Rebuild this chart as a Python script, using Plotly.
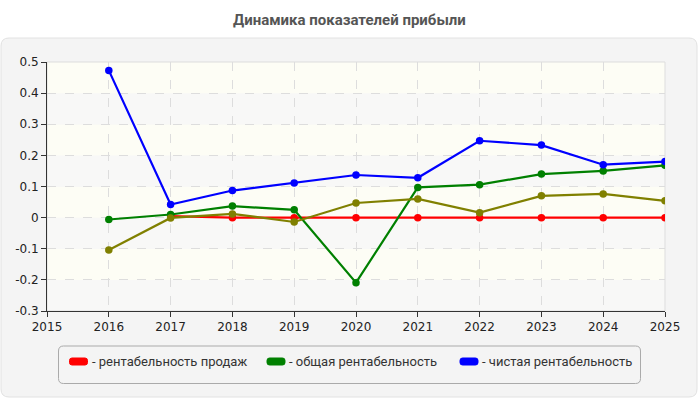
import plotly.graph_objects as go

# ---------------- data ----------------
years = [2016, 2017, 2018, 2019, 2020, 2021, 2022, 2023, 2024, 2025]
sales_profitability = [None, 0.005, 0.0, 0.0, 0.0, 0.0, 0.0, 0.0, 0.0, 0.0]
total_profitability = [-0.006, 0.010, 0.037, 0.025, -0.209, 0.097, 0.106, 0.140, 0.150, 0.168]
net_profitability = [0.473, 0.042, 0.087, 0.111, 0.137, 0.128, 0.247, 0.233, 0.170, 0.180]
fourth_series = [-0.104, -0.001, 0.012, -0.014, 0.047, 0.060, 0.016, 0.070, 0.076, 0.054]

series_names = ["- рентабельность продаж", "- общая рентабельность", "- чистая рентабельность"]
series_colors = ["#ff0000", "#008000", "#0000ff"]
fourth_color = "#808000"

x_ticks = list(range(2015, 2026))
y_ticks = [-0.3, -0.2, -0.1, 0, 0.1, 0.2, 0.3, 0.4, 0.5]
y_tick_text = ["-0.3", "-0.2", "-0.1", "0", "0.1", "0.2", "0.3", "0.4", "0.5"]
title_text = "Динамика показателей прибыли"

# ---------------- layout geometry ----------------
W, H = 700, 400
L, R, T, B = 47, 35, 62, 89
PW, PH = W - L - R, H - T - B


def px(x):
    return (x - L) / PW


def py(y):
    return (H - B - y) / PH


def rounded_path(x0, y0, x1, y1, r):
    rx, ry = r / PW, r / PH
    X0, X1 = px(x0), px(x1)
    Y0, Y1 = py(y0), py(y1)
    return (f"M {X0+rx},{Y0} L {X1-rx},{Y0} Q {X1},{Y0} {X1},{Y0-ry} "
            f"L {X1},{Y1+ry} Q {X1},{Y1} {X1-rx},{Y1} "
            f"L {X0+rx},{Y1} Q {X0},{Y1} {X0},{Y1+ry} "
            f"L {X0},{Y0-ry} Q {X0},{Y0} {X0+rx},{Y0} Z")


fig = go.Figure()

all_series = [sales_profitability, total_profitability, fourth_series, net_profitability]
all_colors = [series_colors[0], series_colors[1], fourth_color, series_colors[2]]
for vals, col in zip(all_series, all_colors):
    fig.add_trace(go.Scatter(
        x=years, y=vals, mode="lines+markers",
        line=dict(color=col, width=2.2),
        marker=dict(color=col, size=7.5),
        showlegend=False, hoverinfo="x+y", connectgaps=False,
    ))

shapes = []
shapes.append(dict(type="path", xref="paper", yref="paper", layer="below",
                   path=rounded_path(1, 38, 697, 397, 8),
                   fillcolor="#f4f4f4", line=dict(color="#e2e2e2", width=1)))
for i in range(len(y_ticks) - 1):
    col = "#f8f8f7" if i % 2 == 0 else "#fdfdf5"
    shapes.append(dict(type="rect", xref="paper", yref="y", layer="below",
                       x0=0, x1=1, y0=y_ticks[i], y1=y_ticks[i + 1],
                       fillcolor=col, line=dict(width=0)))
shapes.append(dict(type="rect", xref="paper", yref="paper", layer="below",
                   x0=0, x1=1, y0=0, y1=1, line=dict(color="#dddddd", width=1)))
shapes.append(dict(type="path", xref="paper", yref="paper", layer="above",
                   path=rounded_path(58.5, 346, 640.5, 383.5, 5),
                   fillcolor="rgba(0,0,0,0)", line=dict(color="#aaaaaa", width=1)))

annotations = []
sw_x = [69.5, 267, 460]
for name, col, sx in zip(series_names, series_colors, sw_x):
    shapes.append(dict(type="path", xref="paper", yref="paper", layer="above",
                       path=rounded_path(sx, 358, sx + 18, 365, 2.5),
                       fillcolor=col, line=dict(color=col, width=1)))
    annotations.append(dict(xref="paper", yref="paper", x=px(sx + 20), y=py(361.5),
                            text=name, showarrow=False, xanchor="left", yanchor="middle",
                            font=dict(family="Roboto", size=13, color="#333333")))

annotations.append(dict(xref="paper", yref="paper", x=px(349), y=py(20),
                        text="<b>" + title_text + "</b>", showarrow=False,
                        xanchor="center", yanchor="middle",
                        font=dict(family="Roboto", size=15, color="#555555")))

fig.update_layout(
    width=W, height=H,
    margin=dict(l=L, r=R, t=T, b=B, pad=0),
    paper_bgcolor="#ffffff",
    plot_bgcolor="#fdfdf5",
    shapes=shapes,
    annotations=annotations,
    showlegend=False,
    font=dict(family="DejaVu Sans", size=12, color="#222222"),
    xaxis=dict(range=[2015, 2025], tickvals=x_ticks, ticktext=[str(v) for v in x_ticks],
               showgrid=True, gridcolor="#dddddd", griddash="dash", gridwidth=1,
               showline=True, linecolor="#333333", linewidth=1,
               ticks="outside", ticklen=5, tickcolor="#333333",
               zeroline=False, fixedrange=True,
               tickfont=dict(family="DejaVu Sans", size=12, color="#222222")),
    yaxis=dict(range=[-0.3, 0.5], tickvals=y_ticks, ticktext=y_tick_text,
               showgrid=True, gridcolor="#dddddd", griddash="dash", gridwidth=1,
               showline=True, linecolor="#333333", linewidth=1,
               ticks="outside", ticklen=5, tickcolor="#333333",
               zeroline=False, fixedrange=True,
               tickfont=dict(family="DejaVu Sans", size=12, color="#222222")),
)

fig.write_html("out.html")
